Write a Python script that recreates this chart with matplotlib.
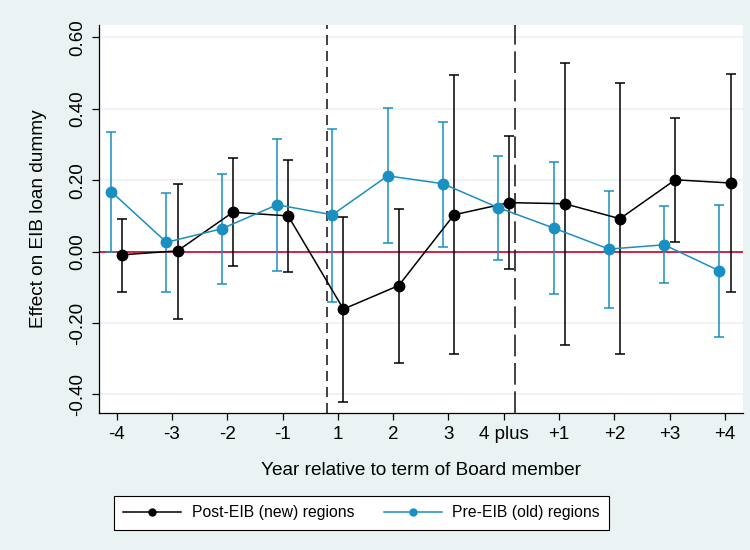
import numpy as np
import matplotlib
matplotlib.use('Agg')
import matplotlib.pyplot as plt

plt.rcParams['font.family'] = ['Liberation Sans', 'DejaVu Sans']

# x categories
tick_labels = ['-4', '-3', '-2', '-1', '1', '2', '3', '4 plus', '+1', '+2', '+3', '+4']

# Post-EIB (new) regions: estimate and confidence interval
post_est = [-0.009, 0.002, 0.110, 0.100, -0.161, -0.095, 0.103, 0.137, 0.134, 0.092, 0.201, 0.192]
post_lo = [-0.112, -0.189, -0.039, -0.057, -0.420, -0.311, -0.287, -0.048, -0.261, -0.288, 0.028, -0.113]
post_hi = [0.092, 0.190, 0.263, 0.257, 0.096, 0.120, 0.493, 0.324, 0.527, 0.473, 0.374, 0.498]

# Pre-EIB (old) regions
pre_est = [0.168, 0.026, 0.064, 0.131, 0.103, 0.212, 0.190, 0.123, 0.066, 0.007, 0.019, -0.054]
pre_lo = [-0.002, -0.113, -0.090, -0.054, -0.140, 0.024, 0.014, -0.023, -0.119, -0.158, -0.089, -0.240]
pre_hi = [0.336, 0.164, 0.218, 0.314, 0.344, 0.402, 0.362, 0.268, 0.250, 0.170, 0.128, 0.131]

# vertical marker lines (between categories)
vline_short = 4.8
vline_long = 8.2

bg = '#eaf2f3'
blue = '#1a8fc1'
red = '#c8143c'

fig = plt.figure(figsize=(7.5, 5.5), dpi=100, facecolor=bg)
ax = fig.add_axes([0.132, 0.249, 0.859, 0.706])
ax.set_facecolor('white')

x = np.arange(1, len(tick_labels) + 1)

# grid lines and zero line
for v in [-0.4, -0.2, 0.2, 0.4, 0.6]:
    ax.axhline(v, color=bg, lw=1.2, zorder=0)
ax.axhline(0, color=red, lw=1.3, zorder=1)

ax.axvline(vline_short, color='#222222', lw=1.2, linestyle=(0, (6, 3.6)), zorder=1)
ax.axvline(vline_long, color='#222222', lw=1.2, linestyle=(0, (13, 4)), zorder=1)

# error bars
post_est = np.array(post_est)
pre_est = np.array(pre_est)
post_err = [post_est - np.array(post_lo), np.array(post_hi) - post_est]
pre_err = [pre_est - np.array(pre_lo), np.array(pre_hi) - pre_est]

ax.errorbar(x + 0.1, post_est, yerr=post_err, fmt='none', ecolor='black',
            elinewidth=1.1, capsize=3.8, capthick=1.1, zorder=2)
ax.errorbar(x - 0.1, pre_est, yerr=pre_err, fmt='none', ecolor=blue,
            elinewidth=1.1, capsize=3.8, capthick=1.1, zorder=2)

ax.plot(x + 0.1, post_est, color='black', lw=1.1, marker='o', markersize=7.5, zorder=3)
ax.plot(x - 0.1, pre_est, color=blue, lw=1.1, marker='o', markersize=7.5, zorder=3)

ax.set_xlim(0.68, 12.33)
ax.set_ylim(-0.452, 0.635)

ax.set_xticks(x)
ax.set_xticklabels(tick_labels, fontsize=13.5)
ax.set_yticks([-0.4, -0.2, 0.0, 0.2, 0.4, 0.6])
ax.set_yticklabels(['-0.40', '-0.20', '0.00', '0.20', '0.40', '0.60'],
                   fontsize=13.5, rotation=90, va='center')
ax.tick_params(direction='out', length=5, width=0.9, colors='black', pad=4)

for side in ['top', 'right']:
    ax.spines[side].set_visible(False)
for side in ['left', 'bottom']:
    ax.spines[side].set_linewidth(0.9)

ax.set_xlabel('Year relative to term of Board member', fontsize=13.7, labelpad=14)
ax.set_ylabel('Effect on EIB loan dummy', fontsize=13.7, labelpad=16)

# legend handles
h1, = ax.plot([], [], color='black', lw=1.1, marker='o', markersize=5)
h2, = ax.plot([], [], color=blue, lw=1.1, marker='o', markersize=5)
leg = fig.legend([h1, h2], ['Post-EIB (new) regions', 'Pre-EIB (old) regions'],
                 loc='center', bbox_to_anchor=(0.482, 0.068), ncol=2,
                 prop={'size': 11.3}, frameon=True, fancybox=False, framealpha=1,
                 edgecolor='black', handlelength=3.7, handletextpad=0.65,
                 columnspacing=1.9, borderpad=0.6)
leg.get_frame().set_linewidth(0.8)

plt.savefig('out.png', dpi=100, facecolor=bg)
